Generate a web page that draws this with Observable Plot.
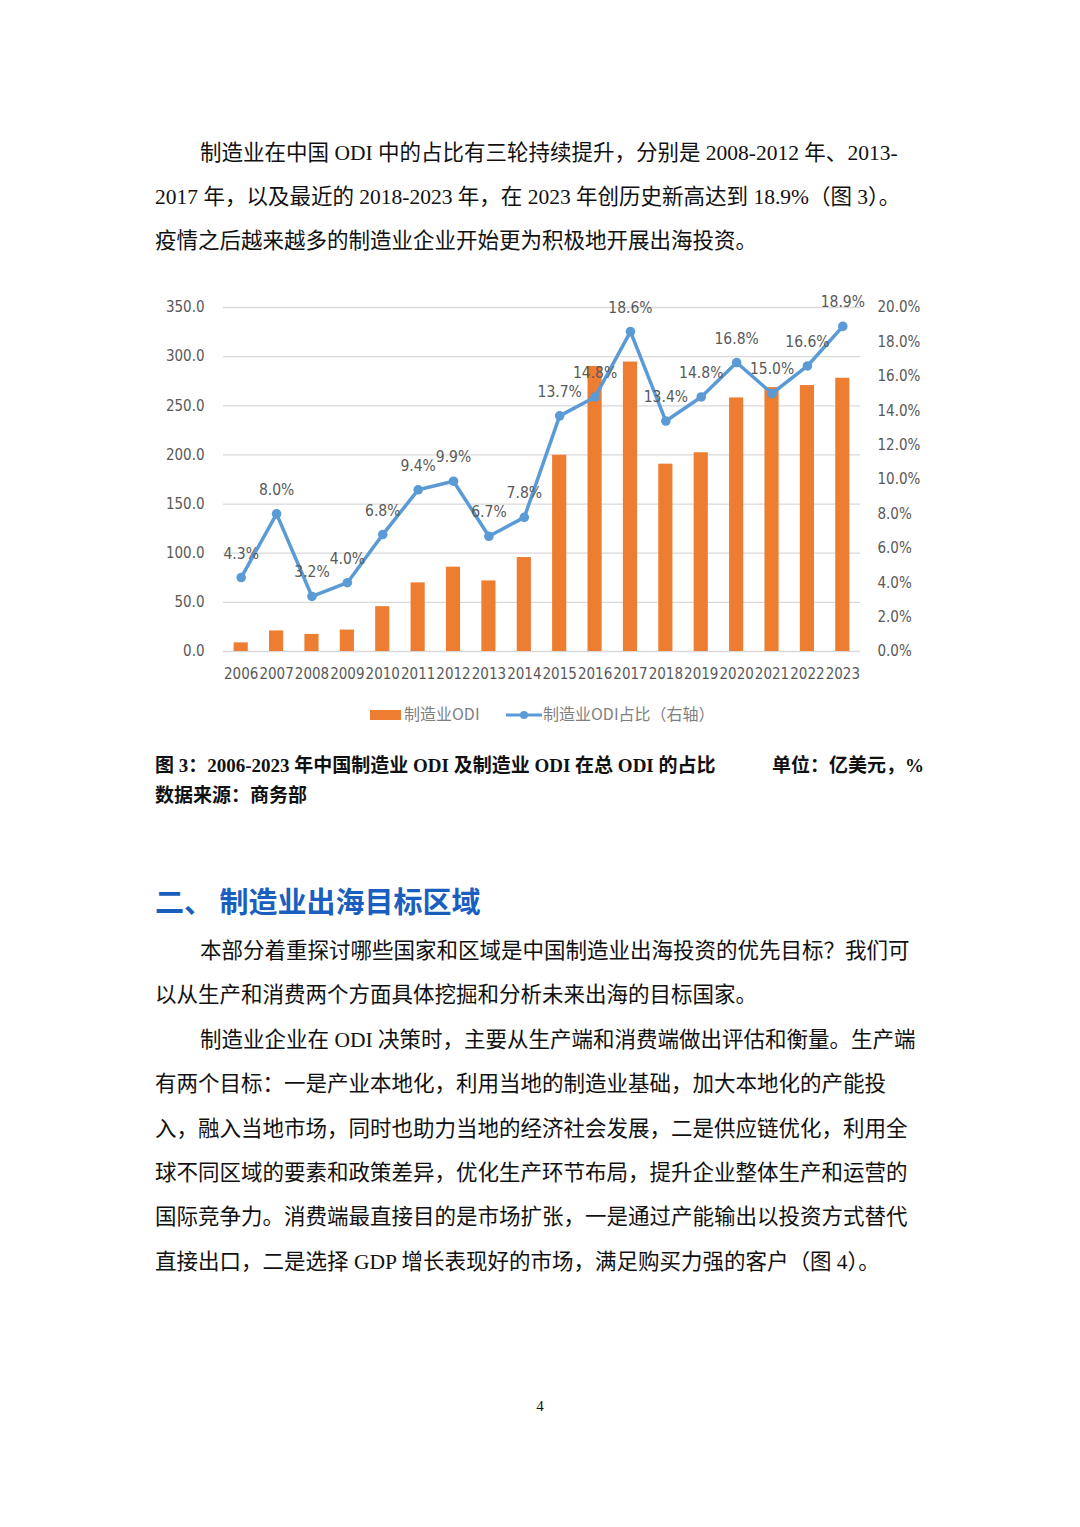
<!DOCTYPE html>
<html><head><meta charset="utf-8">
<script src="https://cdn.jsdelivr.net/npm/d3@7"></script>
<script src="https://cdn.jsdelivr.net/npm/@observablehq/plot@0.6"></script>
<style>
html,body{margin:0;padding:0;background:#fff;}
body{width:1080px;height:1527px;position:relative;overflow:hidden;color:#111;
 font-family:"Liberation Serif","Noto Sans CJK SC",serif;}
.ln{position:absolute;left:155px;white-space:nowrap;font-size:21.5px;height:44px;line-height:44px;}
.ind{left:200px;}
#chart{position:absolute;left:0;top:281px;}
.cap{position:absolute;white-space:nowrap;font-weight:bold;font-size:19px;line-height:26px;height:26px;}
.h2{position:absolute;left:155px;white-space:nowrap;font-family:"Noto Sans CJK SC",sans-serif;font-weight:bold;font-size:29px;line-height:40px;color:#1a5fc0;}
.leg{position:absolute;top:701px;height:24px;line-height:24px;font-family:"Noto Sans CJK SC",sans-serif;font-size:16px;color:#7f7f7f;white-space:nowrap;}
</style></head>
<body>
<div class="ln ind" style="top:131px">制造业在中国 ODI 中的占比有三轮持续提升，分别是 2008-2012 年、2013-</div>
<div class="ln" style="top:175px">2017 年，以及最近的 2018-2023 年，在 2023 年创历史新高达到 18.9%（图 3）。</div>
<div class="ln" style="top:219px">疫情之后越来越多的制造业企业开始更为积极地开展出海投资。</div>

<div id="chart"></div>
<div class="leg" id="leg1" style="left:370px"><span style="display:inline-block;width:31px;height:10px;background:#ED7D31;vertical-align:middle;margin-right:3px;position:relative;top:-1px"></span>制造业ODI</div>
<div class="leg" id="leg2" style="left:506px"><svg width="36" height="12" style="vertical-align:middle;position:relative;top:-1px;margin-right:1px"><line x1="0" y1="6" x2="36" y2="6" stroke="#5B9BD5" stroke-width="3"/><circle cx="18" cy="6" r="4" fill="#5B9BD5"/></svg>制造业ODI占比（右轴）</div>

<div class="cap" style="left:155px;top:753px">图 3：2006-2023 年中国制造业 ODI 及制造业 ODI 在总 ODI 的占比</div>
<div class="cap" style="right:156px;top:753px">单位：亿美元，%</div>
<div class="cap" style="left:155px;top:783px">数据来源：商务部</div>

<div class="h2" style="top:880px">二、 制造业出海目标区域</div>

<div class="ln ind" style="top:929px">本部分着重探讨哪些国家和区域是中国制造业出海投资的优先目标？我们可</div>
<div class="ln" style="top:973px">以从生产和消费两个方面具体挖掘和分析未来出海的目标国家。</div>

<div class="ln ind" style="top:1018px">制造业企业在 ODI 决策时，主要从生产端和消费端做出评估和衡量。生产端</div>
<div class="ln" style="top:1062px">有两个目标：一是产业本地化，利用当地的制造业基础，加大本地化的产能投</div>
<div class="ln" style="top:1107px">入，融入当地市场，同时也助力当地的经济社会发展，二是供应链优化，利用全</div>
<div class="ln" style="top:1151px">球不同区域的要素和政策差异，优化生产环节布局，提升企业整体生产和运营的</div>
<div class="ln" style="top:1195px">国际竞争力。消费端最直接目的是市场扩张，一是通过产能输出以投资方式替代</div>
<div class="ln" style="top:1240px">直接出口，二是选择 GDP 增长表现好的市场，满足购买力强的客户（图 4）。</div>

<div style="position:absolute;left:0;width:1080px;top:1396px;text-align:center;font-size:15px;line-height:20px;">4</div>

<script>
const years = ["2006","2007","2008","2009","2010","2011","2012","2013","2014","2015","2016","2017","2018","2019","2020","2021","2022","2023"];
const odi = [8.8, 20.9, 17.4, 21.8, 45.6, 69.8, 85.8, 71.8, 95.6, 199.7, 290.0, 294.5, 190.6, 202.2, 258.0, 268.5, 270.6, 278.0];
const share = [4.3, 8.0, 3.2, 4.0, 6.8, 9.4, 9.9, 6.7, 7.8, 13.7, 14.8, 18.6, 13.4, 14.8, 16.8, 15.0, 16.6, 18.9];
const leftTicks = [0, 50, 100, 150, 200, 250, 300, 350];
const rightTicks = [0, 2, 4, 6, 8, 10, 12, 14, 16, 18, 20];

const k = 350 / 20; // right-axis percent -> left-axis units
const data = years.map((y, i) => ({year: y, odi: odi[i], share: share[i]}));
const chartFont = '"Liberation Sans Narrow","DejaVu Sans Condensed","Liberation Sans",sans-serif';

const chart = Plot.plot({
  width: 1080, height: 410,
  marginLeft: 223, marginRight: 220, marginTop: 26, marginBottom: 40,
  style: {fontFamily: chartFont, fontSize: "15px", color: "#595959", background: "transparent"},
  x: {domain: years, paddingInner: 0.6, paddingOuter: 0.3, round: false},
  y: {domain: [0, 350]},
  marks: [
    Plot.ruleY(leftTicks, {stroke: "#d9d9d9", strokeWidth: 1.3}),
    Plot.barY(data, {x: "year", y: "odi", fill: "#ED7D31"}),
    Plot.line(data, {x: "year", y: d => d.share * k, stroke: "#5B9BD5", strokeWidth: 3.5, strokeLinejoin: "round"}),
    Plot.dot(data, {x: "year", y: d => d.share * k, r: 4.8, fill: "#5B9BD5", stroke: "none"}),
    Plot.text(data, {x: "year", y: d => d.share * k, text: d => d.share.toFixed(1) + "%", dy: -24, fill: "#595959", fontSize: 15.5}),
    Plot.axisY(leftTicks, {anchor: "left", tickSize: 0, tickPadding: 19, tickFormat: d => d.toFixed(1), label: null}),
    Plot.axisY(rightTicks.map(d => d * k), {anchor: "right", tickSize: 0, tickPadding: 17, tickFormat: d => (d / k).toFixed(1) + "%", label: null}),
    Plot.axisX({tickSize: 0, tickPadding: 17, label: null})
  ]
});
document.getElementById("chart").appendChild(chart);
</script>
</body></html>
